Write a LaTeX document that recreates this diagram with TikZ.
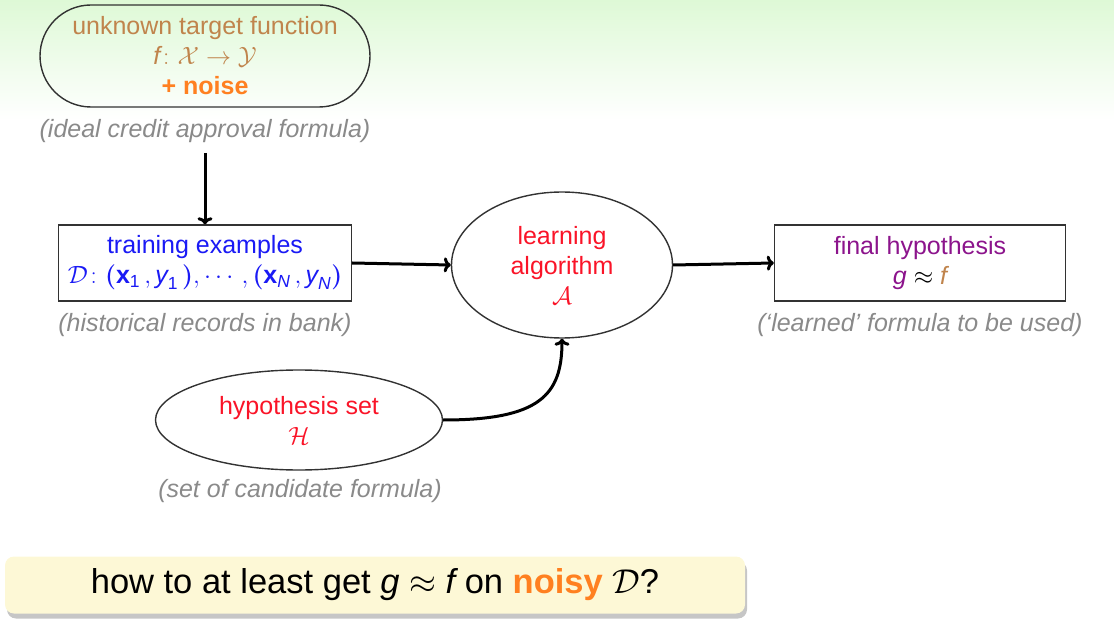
\RequirePackage{fix-cm}
\documentclass[tikz,border=0pt]{standalone}
\usepackage{amsmath}
\usepackage{fontspec}
\setmainfont{Liberation Sans}
\usetikzlibrary{shapes.geometric,shapes.misc,shadows,arrows.meta}
\definecolor{greentop}{RGB}{222,249,214}
\definecolor{brownc}{RGB}{192,132,76}
\definecolor{orangec}{RGB}{255,128,32}
\definecolor{bluec}{RGB}{26,26,245}
\definecolor{redc}{RGB}{250,20,40}
\definecolor{purplec}{RGB}{140,20,140}
\definecolor{capgray}{RGB}{138,138,138}
\definecolor{framec}{RGB}{50,50,50}
\definecolor{yellowc}{RGB}{253,248,214}
\newcommand{\myit}[1]{\text{\itshape #1}}
\newcommand{\mybf}[1]{\text{\bfseries #1}}
\tikzset{
  txt/.style={font=\fontsize{25}{30}\selectfont, align=center, inner sep=0pt},
  captxt/.style={font=\fontsize{25}{30}\selectfont\itshape, text=capgray, inner sep=0pt},
  boxed/.style={txt, draw=framec, line width=1.4pt, fill=white},
  arr/.style={-{To[length=7pt,width=15pt]}, line width=3pt, black}
}
\begin{document}
\begin{tikzpicture}[x=1pt,y=-1pt]
\useasboundingbox (0,0) rectangle (1114,628);
\shade[top color=greentop, bottom color=white] (0,0) rectangle (1114,120);

\node[txt, draw=framec, line width=1.4pt, rounded rectangle, minimum width=330pt, minimum height=102pt] (target) at (205,56)
  {\textcolor{brownc}{unknown target function}\\
   \textcolor{brownc}{$\myit{f}\colon \mathcal{X}\to\mathcal{Y}$}\\
   \textcolor{orangec}{\bfseries + noise}};
\node[captxt] (captarget) at (205,131) {(ideal credit approval formula)};

\node[boxed, minimum width=293pt, minimum height=76pt] (train) at (205,263)
  {\textcolor{bluec}{training examples}\\
   \textcolor{bluec}{$\mathcal{D}\colon \boldsymbol{(}\mybf{x}_{\text{1}}\,, \myit{y}_{\text{1}}\,\boldsymbol{)}, \cdots, \boldsymbol{(}\mybf{x}_{\myit{N}}\,, \myit{y}_{\myit{N}}\boldsymbol{)}$}};
\node[captxt] (captrain) at (205,325) {(historical records in bank)};

\node[txt, draw=framec, line width=1.4pt, ellipse, minimum width=221pt, minimum height=146pt] (learn) at (562,265)
  {\textcolor{redc}{learning}\\ \textcolor{redc}{algorithm}\\ \textcolor{redc}{$\mathcal{A}$}};

\node[boxed, minimum width=291pt, minimum height=76pt] (final) at (920,263)
  {\textcolor{purplec}{final hypothesis}\\
   $\textcolor{purplec}{\myit{g}}\approx\textcolor{brownc}{\myit{f}}$};
\node[captxt] (capfinal) at (920,325) {(`learned' formula to be used)};

\node[txt, draw=framec, line width=1.4pt, ellipse, minimum width=287pt, minimum height=100pt] (hyp) at (299,420)
  {\textcolor{redc}{hypothesis set}\\ \textcolor{redc}{$\mathcal{H}$}};
\node[captxt] (caphyp) at (300,491) {(set of candidate formula)};

\draw[arr, shorten <=10pt] (captarget.south) -- (train.north);
\draw[arr] (train.east) -- (learn.west);
\draw[arr] (learn.east) -- (final.west);
\draw[arr] (hyp.east) .. controls (540,420) and (562,395) .. (learn.south);

\node[rounded corners=9pt, fill=yellowc, drop shadow={shadow xshift=2pt, shadow yshift=-5pt, opacity=0.45}, minimum width=740pt, minimum height=57pt, inner sep=0pt, font=\fontsize{34.5}{40}\selectfont] (question) at (375,585)
  {how to at least get $\myit{g}\approx \myit{f}$ on \textcolor{orangec}{\bfseries noisy} $\mathcal{D}$?};
\end{tikzpicture}
\end{document}
